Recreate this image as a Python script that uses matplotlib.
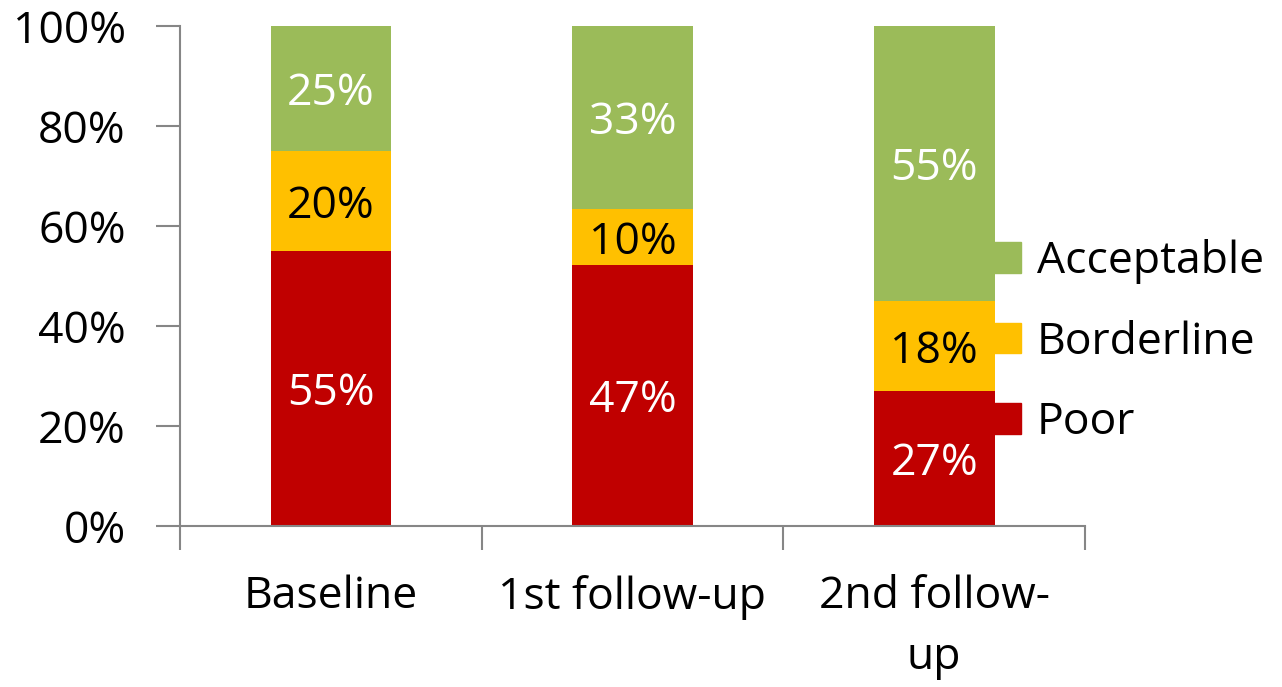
import numpy as np
import matplotlib
matplotlib.use('Agg')
import matplotlib.pyplot as plt
from matplotlib.patches import Patch

# Category labels and raw values (labels show these; bars are normalised to 100%)
categories = ['Baseline', '1st follow-up', '2nd follow-\nup']
poor = [55, 47, 27]
borderline = [20, 10, 18]
acceptable = [25, 33, 55]

series = [('Poor', poor, '#C00000', 'white'),
          ('Borderline', borderline, '#FFC000', 'black'),
          ('Acceptable', acceptable, '#9BBB59', 'white')]

plt.rcParams['font.family'] = ['Open Sans', 'DejaVu Sans']
fs = 32

fig = plt.figure(figsize=(12.82, 6.87), dpi=100)
ax = fig.add_axes([180 / 1282, 1 - 526 / 687, (1085 - 180) / 1282, 500 / 687])

totals = np.array(poor) + np.array(borderline) + np.array(acceptable)
x = np.arange(len(categories))
bottom = np.zeros(len(categories))
for name, vals, color, tcolor in series:
    pct = np.array(vals) / totals * 100
    ax.bar(x, pct, 0.4, bottom=bottom, color=color, label=name)
    for xi, b, p, v in zip(x, bottom, pct, vals):
        # nudge labels a little down, like the original
        ax.annotate(f'{v}%', (xi, b + p / 2), xytext=(0, -4), textcoords='offset points',
                    ha='center', va='center', color=tcolor, fontsize=fs)
    bottom += pct

ax.set_xlim(-0.5, 2.5)
ax.set_ylim(0, 100)
ax.set_yticks(np.arange(0, 101, 20))
ax.set_yticklabels([f'{v}%' for v in range(0, 101, 20)], fontsize=fs)
ax.set_xticks(x)
ax.set_xticklabels(categories, fontsize=fs, va='top', linespacing=1.5)
ax.set_xticks([-0.5, 0.5, 1.5, 2.5], minor=True)
ax.tick_params(axis='x', which='major', length=0, pad=35)
ax.tick_params(axis='x', which='minor', length=17, color='#868686', width=1.5)
ax.tick_params(axis='y', length=17, color='#868686', width=1.5, pad=22)

for s in ['top', 'right']:
    ax.spines[s].set_visible(False)
for s in ['left', 'bottom']:
    ax.spines[s].set_color('#868686')
    ax.spines[s].set_linewidth(1.5)

handles = [Patch(color=c, label=n) for n, _, c, _ in series][::-1]
fig.legend(handles=handles, loc='upper left', bbox_to_anchor=(994 / 1282, 1 - 239 / 687),
           frameon=False, fontsize=fs, handlelength=0.61, handleheight=0.68,
           handletextpad=0.36, labelspacing=0.81, borderaxespad=0, borderpad=0)

fig.savefig('out.png', dpi=100)
